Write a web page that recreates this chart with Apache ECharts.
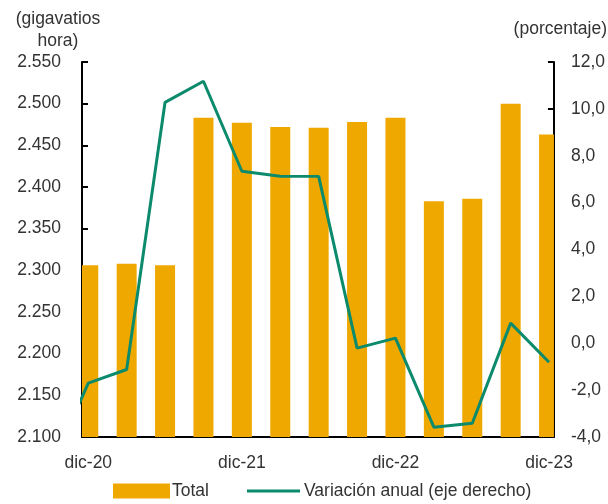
<!DOCTYPE html>
<html>
<head>
<meta charset="utf-8">
<script src="https://cdn.jsdelivr.net/npm/echarts@6/dist/echarts.min.js"></script>
<style>html,body{margin:0;padding:0;background:#fff;}#c{width:608px;height:504px;}</style>
</head>
<body>
<div id="c"></div>
<script>
// Quarterly categories (index 0 = dic-20)
const categories = ['dic-20','mar-21','jun-21','sep-21','dic-21','mar-22','jun-22','sep-22','dic-22','mar-23','jun-23','sep-23','dic-23'];
const totalGWh = [2306, 2308, 2306, 2483, 2477, 2472, 2471, 2478, 2483, 2383, 2386, 2500, 2463];
// Variación anual: preceding quarter (sep-20, off the left edge) then dic-20 ... dic-23
const prevCategory = 'sep-20';
const prevVariation = -5.4;
const variation = [-1.7, -1.12, 10.28, 11.18, 7.34, 7.13, 7.12, -0.21, 0.22, -3.58, -3.41, 0.86, -0.81];
const labeledCategories = ['dic-20','dic-21','dic-22','dic-23'];
const leftTicks = {min: 2100, max: 2550, step: 50};
const rightTicks = {min: -4, max: 12, step: 2};

const font = '"Liberation Sans", Arial, sans-serif';
const txt = '#333333';
const fs = 17.5;
const barColor = '#EFA800';
const lineColor = '#0B8A6C';

const barData = totalGWh.map((v, i) => [i, v]);
const lineData = [[-1, prevVariation]].concat(variation.map((v, i) => [i, v]));
const labelIdx = labeledCategories.map(c => categories.indexOf(c));
const xMin = -0.163, xMax = 12.127;
const tickIdx = labelIdx.map(i => i + xMin);

function fmtThousands(v) {
  const s = String(Math.round(v));
  return s.length > 3 ? s.slice(0, s.length - 3) + '.' + s.slice(-3) : s;
}

function renderBar(params, api) {
  const i = api.value(0), v = api.value(1);
  const top = api.coord([i, v]);
  const base = api.coord([i, leftTicks.min]);
  const w = 20;
  const shape = echarts.graphic.clipRectByRect(
    {x: top[0] - w / 2, y: top[1], width: w, height: base[1] - top[1]},
    {x: params.coordSys.x, y: params.coordSys.y, width: params.coordSys.width, height: params.coordSys.height}
  );
  return shape && {type: 'rect', shape: shape, style: {fill: barColor}};
}

const chart = echarts.init(document.getElementById('c'), null, {renderer: 'canvas'});
chart.setOption({
  animation: false,
  textStyle: {fontFamily: font},
  grid: {left: 82, right: 50, top: 62, bottom: 67, containLabel: false},
  xAxis: {
    type: 'value', min: xMin, max: xMax,
    splitLine: {show: false},
    axisLine: {show: true, onZero: false, lineStyle: {color: '#000', width: 2}},
    axisTick: {show: true, inside: true, length: 5, lineStyle: {color: '#000', width: 2}, customValues: tickIdx},
    axisLabel: {show: true, customValues: labelIdx, margin: 17, color: txt, fontSize: fs, fontFamily: font,
      formatter: v => categories[Math.round(v)] || ''}
  },
  yAxis: [
    {
      type: 'value', min: leftTicks.min, max: leftTicks.max, interval: leftTicks.step,
      splitLine: {show: false},
      axisLine: {show: true, onZero: false, lineStyle: {color: '#000', width: 2}},
      axisTick: {show: true, inside: true, length: 6, lineStyle: {color: '#000', width: 2}},
      axisLabel: {margin: 21, color: txt, fontSize: fs, fontFamily: font, formatter: fmtThousands}
    },
    {
      type: 'value', min: rightTicks.min, max: rightTicks.max, interval: rightTicks.step,
      position: 'right',
      splitLine: {show: false},
      axisLine: {show: true, onZero: false, lineStyle: {color: '#000', width: 2}},
      axisTick: {show: true, inside: true, length: 6, lineStyle: {color: '#000', width: 2}},
      axisLabel: {margin: 17, color: txt, fontSize: fs, fontFamily: font, formatter: v => v.toFixed(1).replace('.', ',')}
    }
  ],
  legend: [
    {left: 108, top: 477, itemWidth: 57, itemHeight: 15, itemGap: 0, data: [{name: 'Total', icon: 'rect'}],
      textStyle: {color: txt, fontSize: fs, fontFamily: font, padding: [0, 0, 0, -3]}},
    {left: 242, top: 477, itemWidth: 53, itemHeight: 3, itemGap: 0, data: [{name: 'Variación anual (eje derecho)', icon: 'rect'}],
      textStyle: {color: txt, fontSize: fs, fontFamily: font, padding: [0, 0, 0, -1]}}
  ],
  graphic: [
    {type: 'text', x: 58, y: 8, style: {text: '(gigavatios\nhora)', fill: txt, font: fs + 'px ' + font, align: 'center', lineHeight: 22}},
    {type: 'text', x: 607, y: 20, style: {text: '(porcentaje)', fill: txt, font: fs + 'px ' + font, align: 'right'}}
  ],
  series: [
    {
      name: 'Total', type: 'custom', data: barData, renderItem: renderBar, clip: true,
      itemStyle: {color: barColor}, yAxisIndex: 0, encode: {x: 0, y: 1}
    },
    {
      name: 'Variación anual (eje derecho)', type: 'line', data: lineData, yAxisIndex: 1, clip: true,
      symbol: 'none', lineStyle: {color: lineColor, width: 3}, itemStyle: {color: lineColor}
    }
  ]
});
</script>
</body>
</html>
